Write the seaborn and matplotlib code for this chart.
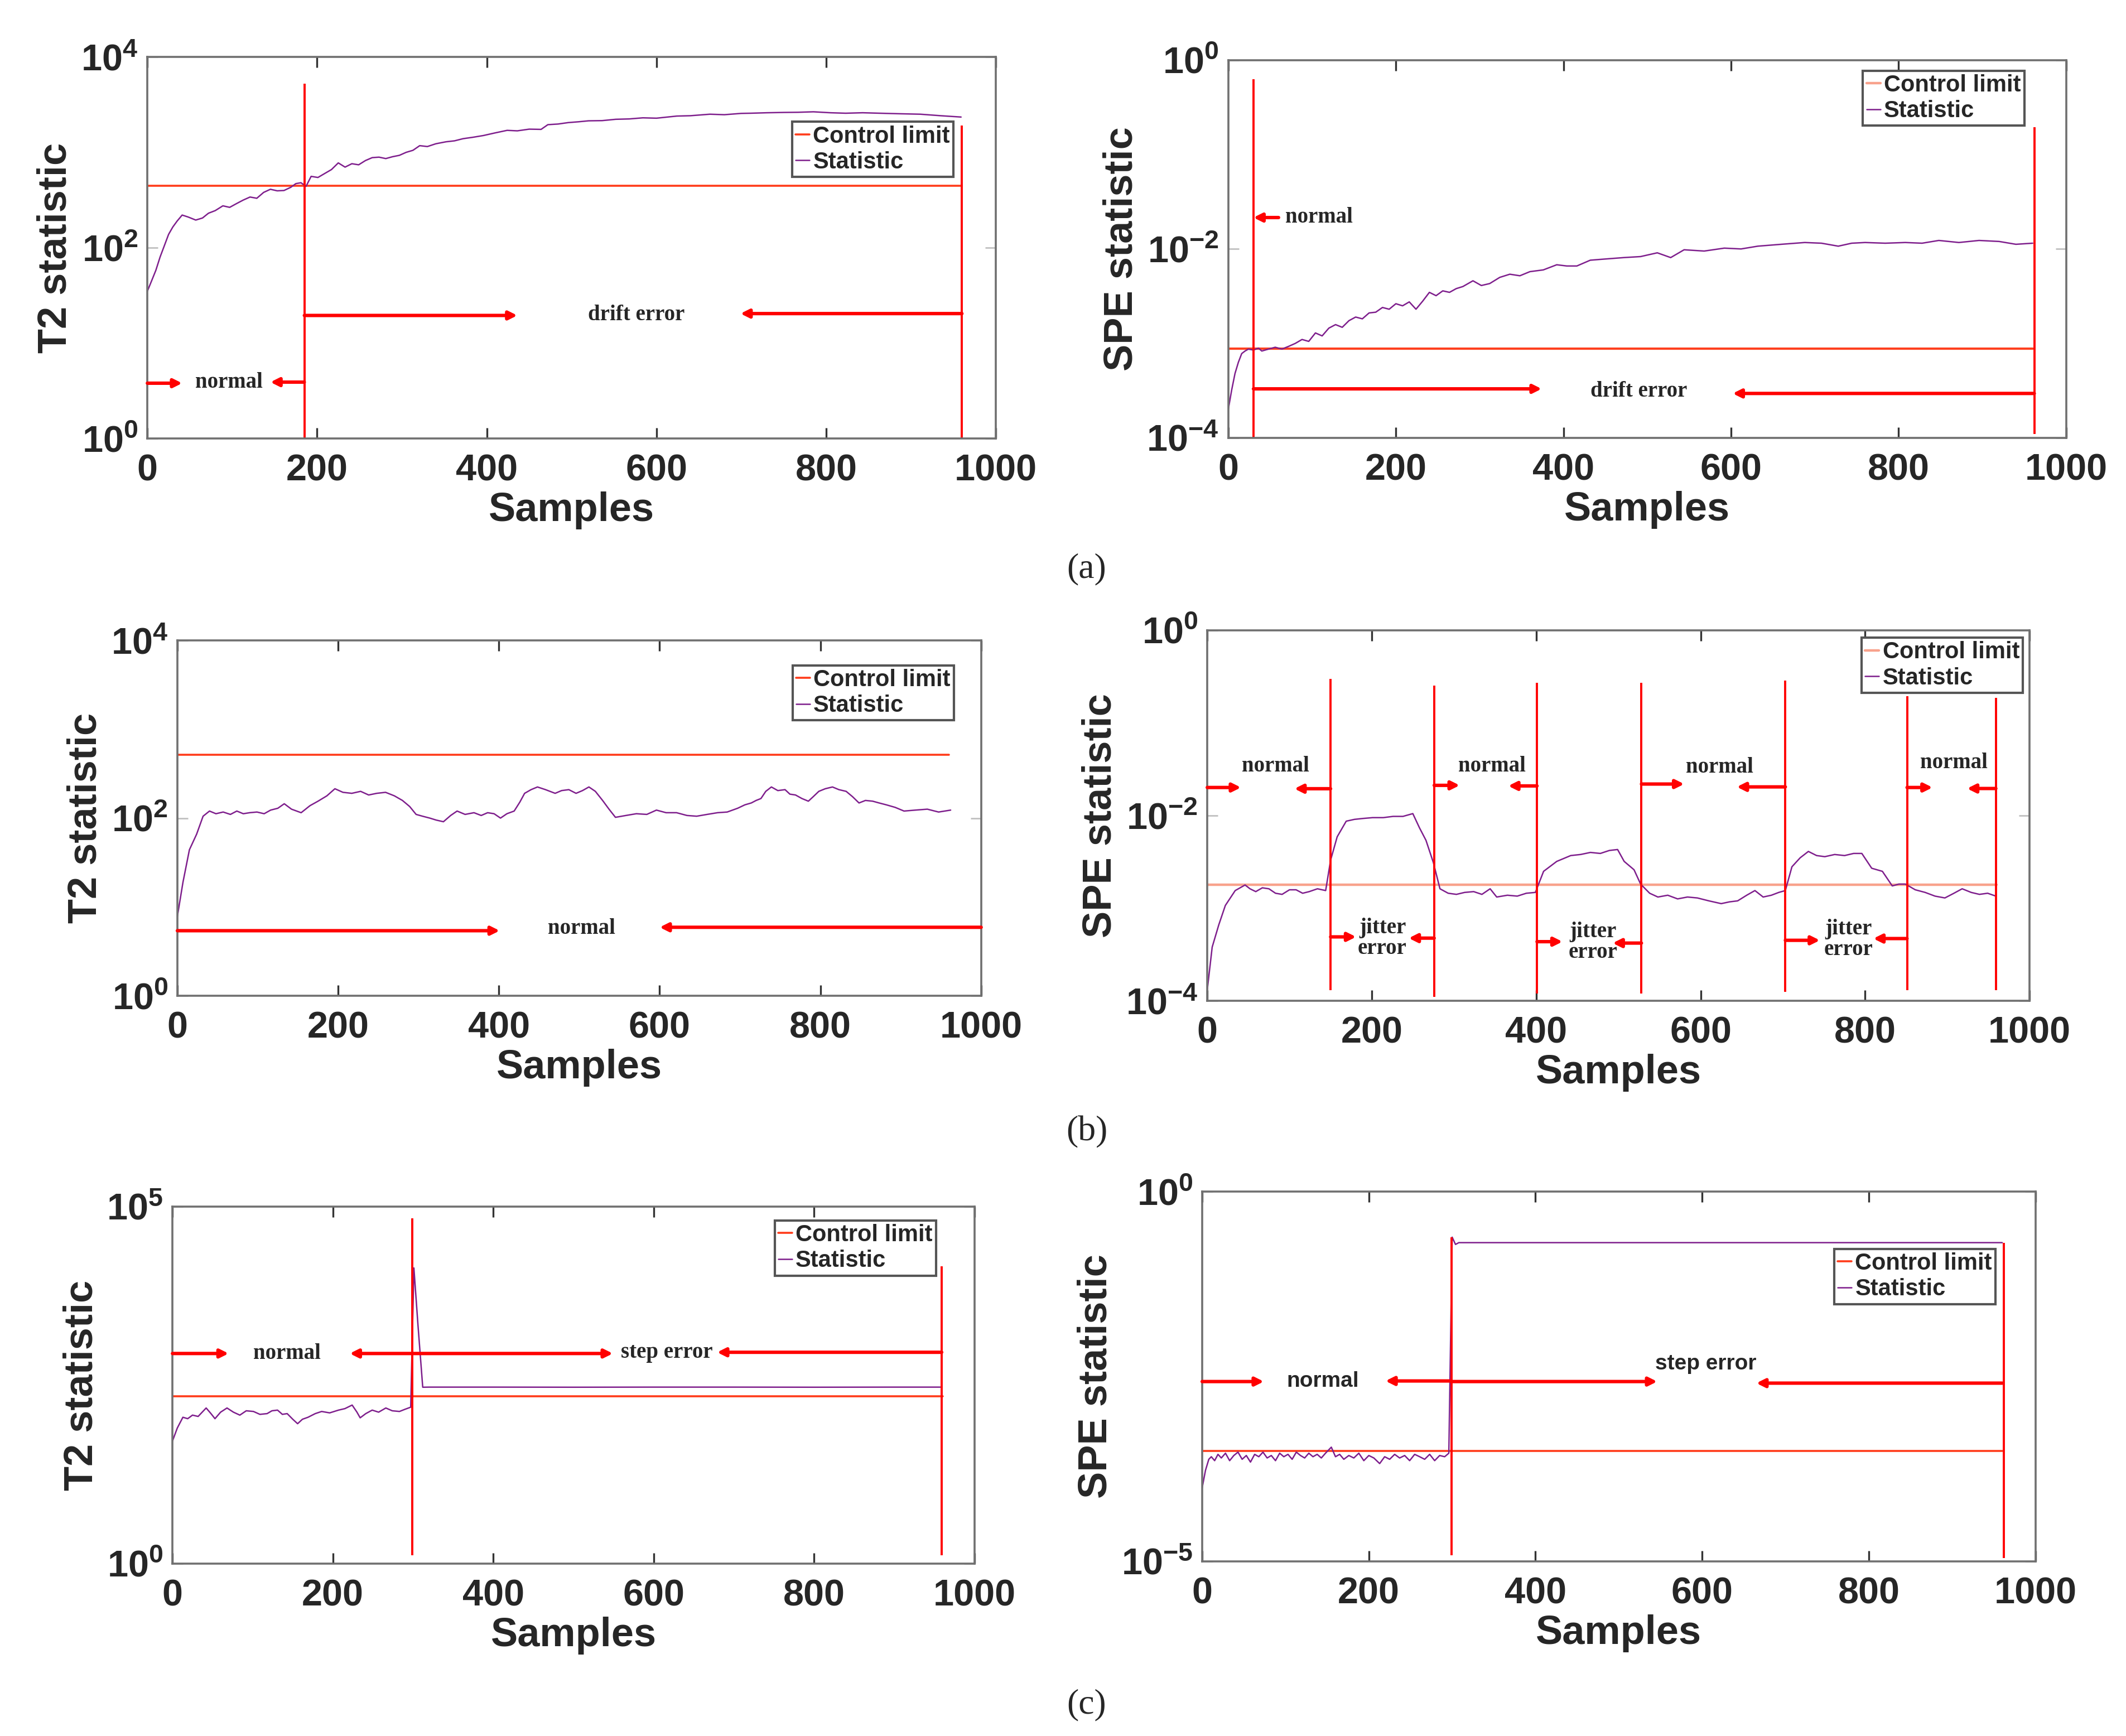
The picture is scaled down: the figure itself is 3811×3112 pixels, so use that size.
import numpy as np
import matplotlib
matplotlib.use("Agg")
import matplotlib.pyplot as plt
from matplotlib.ticker import FuncFormatter, NullLocator
import seaborn as sns

# ---------------- data ----------------
# (a) drift fault
t2_a_x = [0, 5, 10, 15, 20, 25, 30, 35, 41, 48,
          57, 65, 72, 80, 89, 97, 105, 113, 121, 129,
          137, 145, 153, 161, 169, 175, 181, 187, 193, 201,
          209, 217, 225, 233, 241, 249, 257, 265, 273, 281,
          289, 297, 305, 313, 321, 330, 340, 352, 362, 372,
          384, 396, 410, 424, 436, 450, 464, 472, 484, 496,
          508, 520, 536, 552, 568, 584, 600, 624, 640, 663,
          680, 700, 711, 730, 750, 767, 785, 805, 823, 843,
          863, 885, 911, 935, 959]
t2_a_y = [35, 45, 58, 80, 105, 138, 165, 190, 220, 210,
          195, 205, 230, 245, 275, 265, 290, 316, 340, 330,
          380, 410, 395, 398, 430, 470, 480, 440, 560, 545,
          600, 660, 775, 700, 760, 740, 820, 880, 890, 860,
          900, 930, 1000, 1050, 1175, 1150, 1230, 1290, 1320, 1390,
          1440, 1500, 1600, 1700, 1680, 1750, 1740, 1950, 1980, 2050,
          2090, 2140, 2150, 2220, 2240, 2300, 2280, 2400, 2420, 2510,
          2480, 2560, 2570, 2600, 2620, 2630, 2660, 2600, 2570, 2600,
          2570, 2540, 2510, 2420, 2344]
t2_a_limit = 445

spe_a_x = [0, 4, 8, 12, 16, 20, 24, 30, 36, 40,
           48, 56, 64, 72, 80, 88, 96, 104, 112, 120,
           128, 136, 144, 152, 160, 168, 176, 184, 192, 200,
           208, 216, 224, 232, 240, 248, 256, 264, 272, 280,
           292, 302, 312, 324, 336, 348, 360, 376, 392, 404,
           416, 432, 448, 472, 492, 512, 528, 544, 568, 592,
           612, 632, 660, 688, 708, 728, 744, 760, 784, 808,
           828, 848, 872, 896, 920, 940, 960]
spe_a_y = [2.0e-4, 3.2e-4, 4.8e-4, 6.3e-4, 7.8e-4, 8.3e-4, 8.7e-4, 8.5e-4, 8.9e-4, 8.3e-4,
           8.7e-4, 9.1e-4, 8.7e-4, 9.3e-4, 1.0e-3, 1.1e-3, 1.05e-3, 1.29e-3, 1.2e-3, 1.45e-3,
           1.58e-3, 1.48e-3, 1.74e-3, 1.9e-3, 1.82e-3, 2.1e-3, 2.14e-3, 2.4e-3, 2.3e-3, 2.63e-3,
           2.5e-3, 2.75e-3, 2.3e-3, 2.8e-3, 3.47e-3, 3.2e-3, 3.6e-3, 3.47e-3, 3.8e-3, 4.0e-3,
           4.6e-3, 4.1e-3, 4.3e-3, 5.0e-3, 5.4e-3, 5.2e-3, 5.75e-3, 6.0e-3, 6.8e-3, 6.6e-3,
           6.6e-3, 7.6e-3, 7.8e-3, 8.1e-3, 8.3e-3, 9.1e-3, 8.1e-3, 9.8e-3, 9.5e-3, 1.02e-2,
           1.0e-2, 1.07e-2, 1.12e-2, 1.17e-2, 1.15e-2, 1.07e-2, 1.15e-2, 1.17e-2, 1.15e-2, 1.17e-2,
           1.15e-2, 1.23e-2, 1.17e-2, 1.23e-2, 1.2e-2, 1.12e-2, 1.15e-2]
spe_a_limit = 8.8e-4

# (b) jitter fault
t2_b_x = [0, 7, 15, 24, 32, 40, 48, 57, 66, 74,
          82, 90, 99, 108, 116, 125, 133, 142, 154, 165,
          175, 186, 196, 206, 217, 228, 238, 248, 259, 270,
          280, 289, 297, 305, 314, 322, 331, 340, 348, 358,
          369, 378, 386, 394, 402, 410, 419, 426, 432, 440,
          448, 458, 470, 478, 487, 496, 504, 512, 520, 529,
          537, 545, 558, 571, 584, 596, 608, 621, 634, 646,
          659, 672, 684, 697, 706, 714, 720, 726, 732, 739,
          747, 756, 762, 769, 777, 785, 791, 798, 806, 815,
          823, 832, 840, 848, 856, 865, 873, 882, 893, 904,
          918, 933, 947, 962]
t2_b_y = [7.8, 19, 44, 66, 105, 120, 112, 117, 110, 120,
          112, 115, 117, 112, 123, 129, 145, 126, 115, 138,
          155, 178, 214, 195, 190, 200, 182, 190, 195, 178,
          158, 135, 110, 105, 100, 95, 91, 107, 120, 110,
          115, 107, 115, 112, 100, 112, 120, 151, 190, 209,
          224, 209, 190, 204, 209, 190, 204, 224, 200, 158,
          126, 102, 107, 112, 110, 123, 115, 115, 107, 105,
          110, 115, 117, 129, 141, 148, 158, 166, 200, 224,
          204, 209, 186, 182, 166, 155, 174, 200, 214, 224,
          209, 200, 174, 148, 158, 155, 148, 141, 132, 120,
          123, 126, 117, 123]
t2_b_limit = 518

spe_b_x = [0, 6, 14, 22, 34, 46, 52, 59, 67, 75,
           83, 91, 100, 108, 116, 124, 134, 144, 150, 158,
           169, 179, 189, 201, 214, 226, 238, 250, 258, 266,
           275, 283, 293, 303, 313, 324, 334, 344, 352, 365,
           377, 388, 399, 409, 425, 442, 454, 466, 478, 489,
           499, 507, 519, 527, 538, 548, 560, 572, 584, 596,
           610, 625, 635, 645, 656, 666, 676, 686, 695, 703,
           711, 721, 731, 741, 751, 763, 775, 786, 796, 808,
           821, 833, 841, 849, 861, 873, 885, 897, 908, 918,
           929, 939, 949, 959]
spe_b_y = [1.3e-4, 3.8e-4, 6.6e-4, 1.07e-3, 1.55e-3, 1.78e-3, 1.62e-3, 1.51e-3, 1.66e-3, 1.62e-3,
           1.45e-3, 1.41e-3, 1.58e-3, 1.58e-3, 1.45e-3, 1.51e-3, 1.62e-3, 1.55e-3, 3.3e-3, 5.9e-3,
           8.7e-3, 9.1e-3, 9.3e-3, 9.5e-3, 9.5e-3, 9.8e-3, 9.8e-3, 1.05e-2, 7.4e-3, 5.4e-3,
           3.1e-3, 1.62e-3, 1.45e-3, 1.41e-3, 1.48e-3, 1.51e-3, 1.41e-3, 1.62e-3, 1.32e-3, 1.38e-3,
           1.35e-3, 1.45e-3, 1.48e-3, 2.5e-3, 3.2e-3, 3.7e-3, 3.8e-3, 4.0e-3, 3.9e-3, 4.2e-3,
           4.3e-3, 3.2e-3, 2.6e-3, 1.82e-3, 1.45e-3, 1.32e-3, 1.38e-3, 1.26e-3, 1.32e-3, 1.29e-3,
           1.2e-3, 1.12e-3, 1.17e-3, 1.2e-3, 1.38e-3, 1.55e-3, 1.32e-3, 1.38e-3, 1.48e-3, 1.55e-3,
           2.8e-3, 3.5e-3, 4.1e-3, 3.7e-3, 3.6e-3, 3.8e-3, 3.7e-3, 3.9e-3, 3.9e-3, 2.7e-3,
           2.5e-3, 1.74e-3, 1.82e-3, 1.82e-3, 1.58e-3, 1.48e-3, 1.35e-3, 1.29e-3, 1.45e-3, 1.62e-3,
           1.48e-3, 1.41e-3, 1.45e-3, 1.35e-3]
spe_b_limit = 1.8e-3

# (c) step fault
t2_c_x = [0, 6, 13, 19, 25, 32, 42, 48, 53, 60,
          68, 76, 84, 92, 101, 109, 118, 124, 131, 137,
          143, 150, 156, 162, 169, 178, 186, 196, 207, 215,
          224, 230, 234, 241, 249, 257, 266, 274, 283, 290,
          297, 301, 306, 312, 320, 400, 500, 600, 700, 800,
          900, 958]
t2_c_y = [52, 79, 112, 107, 120, 115, 151, 126, 107, 132,
          151, 132, 120, 138, 135, 123, 126, 138, 141, 123,
          126, 105, 91, 105, 112, 126, 135, 129, 141, 148,
          166, 132, 110, 126, 141, 132, 151, 138, 135, 145,
          155, 13800, 2240, 295, 296, 296, 295, 296, 296, 295,
          296, 296]
t2_c_limit = 220

spe_c_x = [0, 4, 8, 11, 15, 19, 23, 28, 33, 38,
           43, 48, 53, 58, 63, 68, 73, 78, 83, 88,
           93, 98, 103, 108, 113, 118, 123, 128, 133, 138,
           143, 148, 155, 160, 165, 170, 176, 182, 188, 194,
           200, 206, 213, 219, 225, 231, 237, 243, 249, 255,
           261, 267, 273, 279, 285, 291, 296, 300, 304, 308,
           400, 500, 600, 700, 800, 900, 960]
spe_c_y = [0.98e-4, 1.7e-4, 2.4e-4, 2.6e-4, 2.3e-4, 2.8e-4, 2.5e-4, 2.9e-4, 2.3e-4, 2.7e-4,
           3.0e-4, 2.4e-4, 2.7e-4, 2.2e-4, 2.8e-4, 2.6e-4, 3.0e-4, 2.5e-4, 2.7e-4, 2.3e-4,
           2.9e-4, 2.6e-4, 2.8e-4, 2.4e-4, 3.0e-4, 2.7e-4, 2.5e-4, 2.9e-4, 2.6e-4, 2.8e-4,
           2.5e-4, 2.9e-4, 3.5e-4, 2.6e-4, 2.8e-4, 2.4e-4, 2.7e-4, 2.5e-4, 2.9e-4, 2.3e-4,
           2.7e-4, 2.5e-4, 2.1e-4, 2.6e-4, 2.4e-4, 2.8e-4, 2.5e-4, 2.7e-4, 2.3e-4, 2.8e-4,
           2.6e-4, 2.4e-4, 2.8e-4, 2.3e-4, 2.7e-4, 2.6e-4, 2.9e-4, 0.242, 0.193, 0.204,
           0.204, 0.204, 0.204, 0.204, 0.204, 0.204, 0.204]
spe_c_limit = 3.1e-4
limit_x = [0, 960]

# red region markers: (sample, bottom, top)
marks_a_t2 = [(185, 1.0, 5250), (960, 1.0, 1900)]
marks_a_spe = [(30, 1e-4, 0.63), (962, 1.1e-4, 0.195)]
marks_b_spe = [(150, 1.3e-4, 0.30), (276, 1.1e-4, 0.254), (401, 1.2e-4, 0.27),
               (528, 1.2e-4, 0.27), (703, 1.25e-4, 0.285), (851, 1.3e-4, 0.195),
               (959, 1.3e-4, 0.186)]
marks_c_t2 = [(299, 1.3, 6.8e4), (959, 1.3, 1.45e4)]
marks_c_spe = [(299, 1.2e-5, 0.242), (962, 1.1e-5, 0.204)]

# arrows: (tail sample, head sample, level)
arrows_a_t2 = [(0, 41, 3.8), (185, 145, 3.9), (185, 436, 19.5), (960, 699, 20.4)]
arrows_a_spe = [(60, 30, 0.0215), (30, 374, 3.3e-4), (962, 602, 2.95e-4)]
arrows_b_t2 = [(0, 401, 5.4), (1000, 600, 5.9)]
arrows_b_spe = [(0, 41, 0.0201), (150, 106, 0.0195), (276, 307, 0.0212), (401, 366, 0.0209),
                (528, 580, 0.0219), (703, 644, 0.0204), (851, 882, 0.0201), (959, 924, 0.0196),
                (150, 181, 4.9e-4), (276, 245, 4.75e-4), (401, 432, 4.35e-4), (528, 493, 4.2e-4),
                (703, 745, 4.5e-4), (851, 810, 4.7e-4)]
arrows_c_t2 = [(0, 70, 875), (299, 221, 875), (299, 549, 875), (959, 679, 910)]
arrows_c_spe = [(0, 74, 2.7e-3), (299, 220, 2.75e-3), (299, 546, 2.7e-3), (960, 665, 2.57e-3)]

# labels: (text, sample, level)
notes_a_t2 = [("normal", 96, 3.85), ("drift error", 576, 19.8)]
notes_a_spe = [("normal", 108, 0.0215), ("drift error", 490, 3.1e-4)]
notes_b_t2 = [("normal", 503, 5.7)]
notes_b_spe = [("normal", 83, 0.034), ("normal", 346, 0.034), ("normal", 623, 0.033),
               ("normal", 908, 0.037), ("jitter\nerror", 213, 4.7e-4),
               ("jitter\nerror", 469, 4.3e-4), ("jitter\nerror", 780, 4.6e-4)]
notes_c_t2 = [("normal", 143, 875), ("step error", 616, 900)]
notes_c_spe = [("normal", 145, 2.75e-3), ("step error", 604, 4.7e-3)]

# ---------------- drawing ----------------
STAT = "#7E1E8C"
CTRL = "#FF3B1A"
SALMON = "#F8A28C"
RED = "#FF0000"

sns.set_style("white")
plt.rcParams["font.family"] = ["Liberation Sans", "DejaVu Sans"]
plt.rcParams["mathtext.fontset"] = "custom"
plt.rcParams["mathtext.rm"] = "Liberation Sans:bold"
plt.rcParams["mathtext.it"] = "Liberation Sans:bold"
plt.rcParams["mathtext.bf"] = "Liberation Sans:bold"
plt.rcParams["mathtext.default"] = "rm"

fig = plt.figure(figsize=(19.06, 15.56), dpi=200)
fig.patch.set_facecolor("white")

boxes = {
    "aL": [0.0693, 0.7474, 0.399, 0.2198],
    "aR": [0.5776, 0.7478, 0.394, 0.2176],
    "bL": [0.0834, 0.4264, 0.378, 0.2047],
    "bR": [0.5677, 0.4235, 0.3867, 0.2134],
    "cL": [0.0811, 0.0993, 0.3772, 0.2057],
    "cR": [0.5653, 0.1006, 0.3919, 0.2130],
}

def dec_fmt(v, pos):
    return r"$10^{%d}$" % int(round(np.log10(v)))

def panel(key, x, y, limit, ylabel, ylim, yticks, marks, arrows, notes,
          leg_anchor, ctrl_color=CTRL, ctrl_plot=None, note_font="Liberation Serif"):
    ax = fig.add_axes(boxes[key])
    sns.lineplot(x=limit_x, y=[limit, limit], ax=ax, color=ctrl_color,
                 linewidth=1.6 if ctrl_color == SALMON else 1.3, label="Control limit")
    if ctrl_plot is not None:
        ax.plot(limit_x, [limit, limit], color=ctrl_plot, linewidth=1.3)
    sns.lineplot(x=x, y=y, ax=ax, color=STAT, linewidth=0.9, label="Statistic",
                 errorbar=None)
    for sx, lo, hi in marks:
        ax.vlines(sx, lo, hi, color=RED, linewidth=1.4)
    for x0, x1, lv in arrows:
        ax.annotate("", xy=(x1, lv), xytext=(x0, lv),
                    arrowprops=dict(arrowstyle="-|>", color=RED, lw=2.2,
                                    mutation_scale=11, shrinkA=0, shrinkB=0))
    for txt, sx, lv in notes:
        ax.text(sx, lv, txt, ha="center", va="center", fontsize=14,
                family=note_font, fontweight="bold", linespacing=1.0)

    ax.set_xlim(0, 1000)
    ax.set_yscale("log")
    ax.set_ylim(*ylim)
    ax.set_xticks(range(0, 1001, 200))
    ax.set_yticks(yticks)
    ax.yaxis.set_major_formatter(FuncFormatter(dec_fmt))
    ax.yaxis.set_minor_locator(NullLocator())
    ax.tick_params(axis="x", direction="in", top=True, bottom=True, length=7,
                   width=1.2, color="#333333", labelsize=24, pad=10)
    ax.tick_params(axis="y", direction="in", left=True, right=True, length=7,
                   width=1.0, color="#c0c0c0", labelsize=24, pad=6)
    for lab in ax.get_xticklabels():
        lab.set_fontweight("bold")
    ax.set_xlabel("Samples", fontsize=26, fontweight="bold", labelpad=2)
    ax.set_ylabel(ylabel, fontsize=26, fontweight="bold", labelpad=4)
    for sp in ax.spines.values():
        sp.set_color("#707070")
        sp.set_linewidth(1.3)

    leg = ax.legend(loc="upper right", bbox_to_anchor=leg_anchor, borderaxespad=0,
                    prop={"family": "Liberation Sans", "weight": "bold", "size": 15},
                    handlelength=0.6, handletextpad=0.15, borderpad=0.15,
                    labelspacing=0.15, fancybox=False, framealpha=1,
                    edgecolor="#555555")
    leg.get_frame().set_linewidth(1.5)
    return ax

panel("aL", t2_a_x, t2_a_y, t2_a_limit, "T2 statistic", (1, 1e4), [1, 1e2, 1e4],
      marks_a_t2, arrows_a_t2, notes_a_t2, (0.95, 0.83))
panel("aR", spe_a_x, spe_a_y, spe_a_limit, "SPE statistic", (1e-4, 1), [1e-4, 1e-2, 1],
      marks_a_spe, arrows_a_spe, notes_a_spe, (0.95, 0.972),
      ctrl_color=SALMON, ctrl_plot=CTRL)
panel("bL", t2_b_x, t2_b_y, t2_b_limit, "T2 statistic", (1, 1e4), [1, 1e2, 1e4],
      [], arrows_b_t2, notes_b_t2, (0.966, 0.93))
panel("bR", spe_b_x, spe_b_y, spe_b_limit, "SPE statistic", (1e-4, 1), [1e-4, 1e-2, 1],
      marks_b_spe, arrows_b_spe, notes_b_spe, (0.992, 0.98), ctrl_color=SALMON)
panel("cL", t2_c_x, t2_c_y, t2_c_limit, "T2 statistic", (1, 1e5), [1, 1e5],
      marks_c_t2, arrows_c_t2, notes_c_t2, (0.952, 0.961))
panel("cR", spe_c_x, spe_c_y, spe_c_limit, "SPE statistic", (1e-5, 1), [1e-5, 1],
      marks_c_spe, arrows_c_spe, notes_c_spe, (0.952, 0.845),
      note_font="Liberation Sans")

for tag, yy in [("(a)", 0.672), ("(b)", 0.348), ("(c)", 0.018)]:
    fig.text(0.511, yy, tag, ha="center", va="center", fontsize=23,
             family="Liberation Serif")

fig.savefig("out.png", dpi=200, facecolor="white")
